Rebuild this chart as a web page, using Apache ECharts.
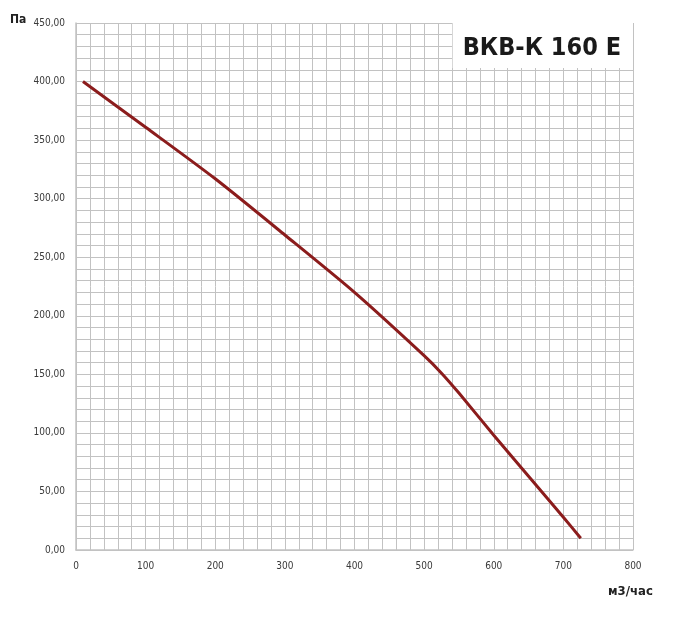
<!DOCTYPE html>
<html>
<head>
<meta charset="utf-8">
<script src="https://cdn.jsdelivr.net/npm/echarts@6/dist/echarts.min.js"></script>
<style>html,body{margin:0;padding:0;background:#fff}#c{width:677px;height:629px}</style>
</head>
<body>
<div id="c"></div>
<script>
const chartTitle = 'ВКВ-К 160 Е';
const yUnit = 'Па';
const xUnit = 'м3/час';
const flow = [10, 100, 200, 300, 400, 500, 525, 550, 600, 650, 700, 725];
const pressure = [400, 361, 317, 269, 220, 166, 151, 134, 98, 63, 28, 10];

const labelFont = '"DejaVu Sans Condensed", "DejaVu Sans", sans-serif';
const gridColor = '#c2c2c2';
const chart = echarts.init(document.getElementById('c'), null, {renderer: 'canvas'});
chart.setOption({
  animation: false,
  backgroundColor: '#fff',
  grid: {left: 76, right: 44, top: 23, bottom: 79, containLabel: false},
  title: {
    text: chartTitle, right: 44, top: 23,
    backgroundColor: '#fff', padding: [10, 12, 5, 10],
    textStyle: {fontFamily: labelFont, fontWeight: 'bold', fontSize: 25, lineHeight: 30, color: '#1a1a1a'}
  },
  xAxis: {
    type: 'value', min: 0, max: 800, interval: 100,
    axisLine: {show: true, lineStyle: {color: gridColor, width: 1.5}},
    axisTick: {show: false},
    axisLabel: {fontFamily: labelFont, fontSize: 10, color: '#3a3a3a', margin: 11},
    splitLine: {show: true, lineStyle: {color: gridColor, width: 1}},
    minorTick: {show: false, splitNumber: 5},
    minorSplitLine: {show: true, lineStyle: {color: gridColor, width: 1}}
  },
  yAxis: {
    type: 'value', min: 0, max: 450, interval: 50,
    axisLine: {show: true, lineStyle: {color: gridColor, width: 1.5}},
    axisTick: {show: false},
    axisLabel: {fontFamily: labelFont, fontSize: 10, color: '#3a3a3a', margin: 11,
      formatter: v => v.toFixed(2).replace('.', ',')},
    splitLine: {show: true, lineStyle: {color: gridColor, width: 1}},
    minorTick: {show: false, splitNumber: 5},
    minorSplitLine: {show: true, lineStyle: {color: gridColor, width: 1}}
  },
  graphic: [
    {type: 'text', left: 10, top: 14, style: {text: yUnit, font: 'bold 12px "DejaVu Sans Condensed", "DejaVu Sans", sans-serif', fill: '#222'}},
    {type: 'text', left: 608, top: 585, style: {text: xUnit, font: 'bold 13px "DejaVu Sans Condensed", "DejaVu Sans", sans-serif', fill: '#222'}}
  ],
  series: [{
    type: 'line',
    data: flow.map((x, i) => [x, pressure[i]]),
    smooth: 0.25,
    symbol: 'none',
    lineStyle: {color: '#8b1c1c', width: 3},
    z: 5
  }]
});
</script>
</body>
</html>
